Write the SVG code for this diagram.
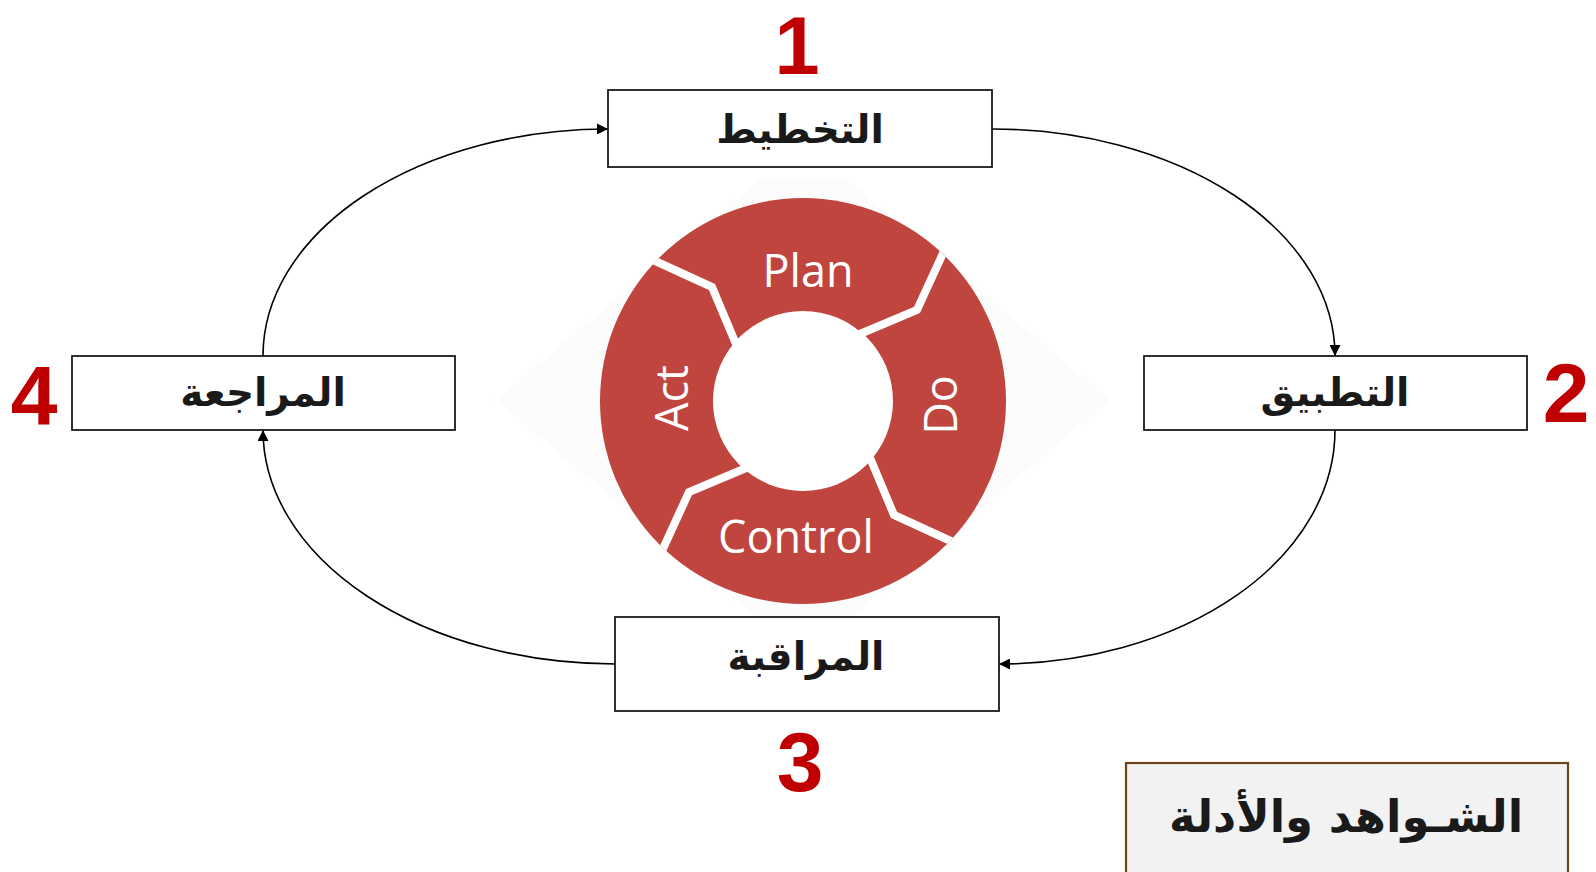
<svg xmlns="http://www.w3.org/2000/svg" width="1596" height="872" viewBox="0 0 1596 872">
  <style>
    .box { fill: #ffffff; stroke: #1a1a1a; stroke-width: 1.8; }
    .lbl { font-family: "DejaVu Sans", sans-serif; font-weight: bold; font-size: 39px; fill: #1a1a1a; text-anchor: middle; }
    .num { font-family: "Liberation Sans", Arial, sans-serif; font-weight: bold; font-size: 84px; fill: #c00000; text-anchor: middle; }
    .wh { font-family: "Open Sans", "Noto Sans", sans-serif; font-size: 45px; fill: #ffffff; text-anchor: middle; }
    .conn { fill: none; stroke: #000000; stroke-width: 1.6; }
    .sep { fill: none; stroke: #ffffff; stroke-width: 8; stroke-linejoin: miter; }
  </style>
  <defs>
    <marker id="arr" viewBox="0 0 10 10" refX="10" refY="5" markerWidth="13" markerHeight="11" markerUnits="userSpaceOnUse" orient="auto">
      <path d="M0,0 L10,5 L0,10 z" fill="#000000"/>
    </marker>
    <clipPath id="ringClip">
      <circle cx="0" cy="0" r="203"/>
    </clipPath>
    <path id="sepPath" d="M -163 -147 L -91 -114 L -70 -64 L -60 -40"/>
  </defs>

  <rect width="1596" height="872" fill="#ffffff"/>

  <!-- PDCA wheel -->
  <g id="wheel">
    <polygon points="495,400 760,178 846,178 1111,400 846,622 760,622" fill="#fcfcfc"/>
    <g transform="translate(803,401)">
      <circle cx="0" cy="0" r="203" fill="#c0453f"/>
      <g clip-path="url(#ringClip)">
        <use href="#sepPath" class="sep"/>
        <use href="#sepPath" class="sep" transform="rotate(90)"/>
        <use href="#sepPath" class="sep" transform="rotate(180)"/>
        <use href="#sepPath" class="sep" transform="rotate(270)"/>
      </g>
      <circle cx="0" cy="0" r="90" fill="#ffffff"/>
    </g>
    <text class="wh" x="808" y="287">Plan</text>
    <text class="wh" x="796" y="553">Control</text>
    <text class="wh" transform="translate(688,398) rotate(-90)" x="0" y="0">Act</text>
    <text class="wh" transform="translate(957,405) rotate(-90)" x="0" y="0">Do</text>
  </g>

  <!-- connectors -->
  <g id="connectors">
    <path class="conn" d="M 992 129 A 343 227 0 0 1 1335 356" marker-end="url(#arr)"/>
    <path class="conn" d="M 1335 430 A 336 234 0 0 1 999 664" marker-end="url(#arr)"/>
    <path class="conn" d="M 615 664 A 352 234 0 0 1 263 430" marker-end="url(#arr)"/>
    <path class="conn" d="M 263 356 A 345 227 0 0 1 608 129" marker-end="url(#arr)"/>
  </g>

  <!-- nodes -->
  <g id="node-plan">
    <rect class="box" x="608" y="90" width="384" height="77"/>
    <text class="lbl" x="800" y="143">التخطيط</text>
    <text class="num" x="797" y="74" style="font-size:81px">1</text>
  </g>
  <g id="node-do">
    <rect class="box" x="1144" y="356" width="383" height="74"/>
    <text class="lbl" x="1335" y="406">التطبيق</text>
    <text class="num" x="1566" y="422">2</text>
  </g>
  <g id="node-check">
    <rect class="box" x="615" y="617" width="384" height="94"/>
    <text class="lbl" x="806" y="670">المراقبة</text>
    <text class="num" x="800" y="791">3</text>
  </g>
  <g id="node-act">
    <rect class="box" x="72" y="356" width="383" height="74"/>
    <text class="lbl" x="263" y="406">المراجعة</text>
    <text class="num" x="34" y="425">4</text>
  </g>
  <g id="node-evidence">
    <rect x="1126" y="763" width="442" height="120" fill="#f2f2f2" stroke="#70441a" stroke-width="2.2"/>
    <text x="1346" y="832" font-family="DejaVu Sans, sans-serif" font-weight="bold" font-size="45px" fill="#1a1a1a" text-anchor="middle">الشـواهد والأدلة</text>
  </g>
</svg>
